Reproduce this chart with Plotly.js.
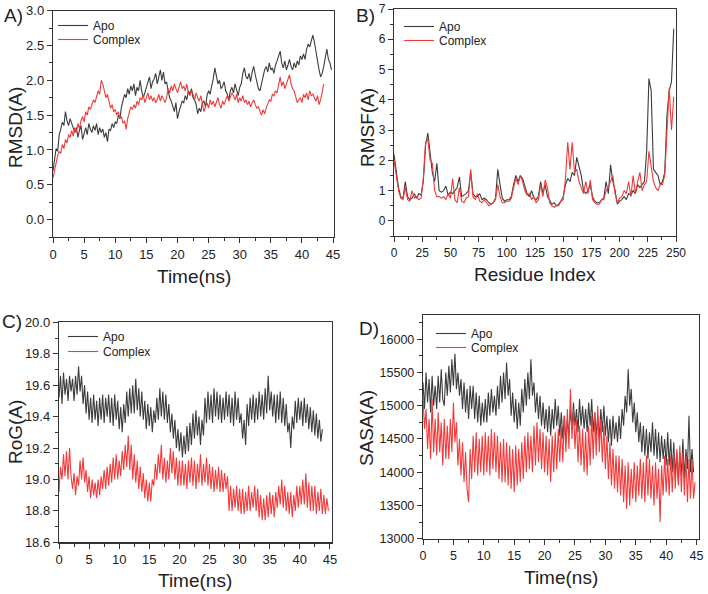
<!DOCTYPE html>
<html>
<head>
<meta charset="utf-8">
<script src="https://cdn.plot.ly/plotly-3.0.1.min.js"></script>
<style>html,body{margin:0;padding:0;background:#fff;}#chart{width:708px;height:594px;}</style>
</head>
<body>
<div id="chart"></div>
<script>
// ---------- DATA ----------
const seriesNames = ["Apo", "Complex"];
const timeStep = 0.25;   // ns between frames for panels A, C, D
const residueStep = 2;   // residues between points for panel B

// A) RMSD (Å)
const rmsdApo = [0.70,0.90,1.02,0.98,1.22,1.30,1.40,1.35,1.55,
1.42,1.35,1.45,1.38,1.30,1.25,1.32,1.18,
1.28,1.35,1.15,1.25,1.32,1.22,1.38,1.30,
1.25,1.35,1.28,1.38,1.22,1.32,1.25,1.30,
1.18,1.25,1.12,1.30,1.28,1.38,1.32,1.40,
1.38,1.50,1.45,1.62,1.70,1.80,1.75,1.88,
1.80,1.92,1.85,1.95,1.78,1.90,1.85,2.00,
1.85,1.75,1.82,1.90,1.95,2.05,1.88,1.98,
2.02,2.10,1.95,2.05,2.15,2.00,2.12,1.95,
1.98,1.85,1.75,1.70,1.62,1.55,1.68,1.45,
1.55,1.62,1.70,1.68,1.78,1.72,1.85,1.80,
1.88,1.75,1.72,1.65,1.52,1.60,1.55,1.68,
1.70,1.62,1.78,1.85,1.80,1.92,2.02,2.18,
2.05,1.95,2.00,1.88,1.92,1.98,1.85,1.80,
1.72,1.85,1.90,1.82,1.95,1.85,1.78,1.90,
1.95,2.10,2.18,2.05,2.02,2.10,1.98,2.12,
2.20,2.08,1.95,1.88,1.85,1.98,2.05,2.15,
2.20,2.12,2.25,2.15,2.18,2.10,2.22,2.28,
2.35,2.42,2.25,2.18,2.28,2.15,2.22,2.30,
2.20,2.15,2.25,2.18,2.28,2.22,2.35,2.30,
2.38,2.30,2.45,2.52,2.48,2.58,2.65,2.55,
2.40,2.30,2.15,2.05,2.10,2.20,2.35,2.45,
2.30,2.25,2.15];
const rmsdComplex = [0.60,0.72,0.85,0.92,0.98,0.95,1.08,1.02,1.15,
1.10,1.22,1.18,1.28,1.20,1.32,1.25,1.38,
1.30,1.42,1.48,1.40,1.55,1.50,1.62,1.58,
1.65,1.72,1.68,1.78,1.85,1.80,2.00,1.95,
1.82,1.75,1.80,1.68,1.60,1.65,1.55,1.58,
1.50,1.55,1.45,1.48,1.38,1.42,1.30,1.45,
1.55,1.62,1.58,1.65,1.60,1.70,1.65,1.75,
1.72,1.80,1.68,1.75,1.82,1.72,1.78,1.70,
1.75,1.68,1.72,1.80,1.70,1.78,1.72,1.68,
1.75,1.88,1.82,1.92,1.85,1.95,1.88,1.82,
1.90,1.98,1.88,1.92,1.85,1.95,1.82,1.78,
1.85,1.80,1.72,1.82,1.75,1.70,1.78,1.65,
1.55,1.62,1.68,1.60,1.72,1.65,1.70,1.62,
1.68,1.75,1.65,1.60,1.70,1.65,1.72,1.78,
1.70,1.75,1.82,1.78,1.72,1.80,1.68,1.75,
1.70,1.78,1.68,1.72,1.65,1.70,1.62,1.68,
1.72,1.65,1.60,1.62,1.55,1.50,1.58,1.52,
1.60,1.68,1.72,1.70,1.80,1.78,1.85,1.82,
1.95,2.05,1.92,1.98,1.88,1.95,2.02,2.08,
1.95,1.88,1.85,1.78,1.68,1.72,1.75,1.68,
1.80,1.75,1.82,1.72,1.85,1.78,1.80,1.75,
1.70,1.78,1.65,1.72,1.82,1.95];

// B) RMSF (Å) per residue (every 2nd residue from 0)
const rmsfApo = [2.2,1.7,1.1,0.8,0.75,1.3,0.8,0.7,0.75,0.9,0.75,0.9,0.85,1.3,2.5,2.9,2.3,1.6,1.3,1.9,
1.0,0.95,1.0,1.15,0.85,0.95,0.9,1.0,1.1,1.45,0.8,0.85,0.9,1.0,1.6,0.9,0.8,0.8,0.9,0.7,
0.75,0.7,0.6,0.55,0.6,0.75,1.7,1.2,0.75,0.65,0.7,0.7,0.8,1.2,1.5,1.3,1.5,1.4,1.1,0.9,
0.8,1.0,0.75,0.7,0.8,1.3,0.9,1.2,0.8,0.65,0.55,0.6,0.5,0.55,0.65,0.8,1.2,1.4,1.3,1.6,
1.5,2.1,1.8,1.5,1.0,0.9,1.0,1.2,0.8,0.65,0.6,0.6,0.7,0.75,1.3,0.9,1.85,1.3,1.0,0.55,
0.65,0.7,0.8,0.7,0.9,0.85,1.0,0.9,1.2,1.1,1.2,1.3,2.3,4.7,4.3,1.7,1.6,1.5,1.2,1.3,
1.6,3.5,4.3,4.6,6.35];
const rmsfComplex = [2.0,1.5,1.0,0.75,0.7,1.1,0.7,0.65,1.0,0.75,0.8,0.7,0.75,1.4,2.6,2.7,2.0,1.9,1.0,0.8,
0.8,0.75,0.8,0.7,0.9,0.75,1.4,0.7,0.6,1.1,0.65,0.6,0.75,0.8,1.7,0.8,0.7,0.9,0.65,0.6,
0.7,0.6,0.5,0.55,0.6,0.7,1.2,0.8,0.6,0.6,0.65,0.65,0.75,1.1,1.4,1.2,1.5,1.3,1.0,0.85,
0.9,0.7,0.8,0.6,0.7,1.2,0.8,1.35,1.1,0.6,0.5,0.45,0.5,0.5,0.65,0.7,1.4,2.6,1.7,2.6,
1.6,1.7,1.3,1.1,0.9,1.3,0.9,1.35,0.7,0.6,0.55,0.55,0.7,0.7,1.0,1.1,1.3,1.5,0.9,0.6,
0.75,0.8,1.0,0.9,1.3,0.8,1.5,0.9,1.3,1.6,1.0,1.2,1.3,2.3,1.8,1.3,1.1,1.0,1.2,1.2,
1.5,3.0,4.4,3.0,4.1];

// C) Radius of gyration (Å)
const rogApo = [19.52,19.66,19.48,19.68,19.54,19.64,19.50,19.66,19.56,
19.64,19.50,19.66,19.54,19.72,19.56,19.66,19.48,
19.60,19.42,19.56,19.38,19.52,19.36,19.54,19.38,
19.50,19.34,19.52,19.38,19.54,19.36,19.52,19.40,
19.54,19.36,19.52,19.34,19.54,19.38,19.50,19.32,
19.46,19.30,19.48,19.36,19.56,19.40,19.58,19.42,
19.60,19.42,19.64,19.44,19.58,19.40,19.56,19.38,
19.50,19.32,19.48,19.34,19.46,19.30,19.44,19.36,
19.52,19.38,19.58,19.40,19.56,19.38,19.54,19.36,
19.48,19.30,19.42,19.26,19.38,19.20,19.32,19.18,
19.30,19.14,19.28,19.16,19.34,19.18,19.36,19.22,
19.42,19.26,19.44,19.28,19.40,19.22,19.38,19.28,
19.52,19.36,19.56,19.38,19.54,19.36,19.58,19.40,
19.56,19.38,19.54,19.36,19.52,19.38,19.56,19.40,
19.54,19.36,19.52,19.34,19.56,19.38,19.52,19.36,
19.42,19.26,19.38,19.22,19.48,19.34,19.52,19.38,
19.54,19.36,19.52,19.38,19.56,19.40,19.54,19.38,
19.58,19.42,19.66,19.44,19.56,19.40,19.54,19.36,
19.54,19.38,19.56,19.36,19.52,19.34,19.48,19.30,
19.36,19.20,19.40,19.32,19.50,19.36,19.52,19.38,
19.50,19.34,19.52,19.36,19.48,19.32,19.46,19.30,
19.44,19.28,19.42,19.26,19.38,19.24,19.32];
const rogComplex = [18.92,19.08,19.00,19.16,19.02,19.18,19.00,19.20,19.02,
18.94,19.04,18.90,19.02,18.96,19.12,19.00,19.14,
18.98,19.06,18.92,19.02,18.88,19.00,18.90,18.98,
18.88,19.00,18.90,19.02,18.94,19.06,18.94,19.08,
18.96,19.10,18.98,19.14,19.00,19.16,19.00,19.12,
19.02,19.18,19.06,19.22,19.08,19.28,19.06,19.22,
19.00,19.16,18.98,19.12,18.94,19.08,18.92,19.04,
18.88,19.00,18.86,18.98,18.86,19.00,18.96,19.10,
19.00,19.16,19.04,19.22,19.00,19.14,18.98,19.12,
19.00,19.20,19.04,19.18,19.00,19.14,18.96,19.12,
18.96,19.12,18.96,19.10,18.94,19.12,18.98,19.14,
18.96,19.12,18.94,19.10,18.98,19.16,18.96,19.10,
18.98,19.14,18.96,19.10,18.94,19.08,18.92,19.06,
18.94,19.08,18.92,19.06,18.92,19.04,18.94,19.02,
18.80,18.96,18.80,18.94,18.82,18.96,18.80,18.94,
18.78,18.94,18.78,18.92,18.80,18.96,18.80,18.92,
18.82,18.96,18.80,18.94,18.76,18.90,18.74,18.88,
18.74,18.90,18.76,18.92,18.78,18.90,18.76,18.92,
18.82,18.96,18.84,19.00,18.82,18.96,18.80,18.92,
18.78,18.92,18.76,18.90,18.80,18.96,18.82,18.96,
18.84,19.00,18.84,19.04,18.82,18.98,18.80,18.96,
18.80,18.96,18.78,18.92,18.80,18.94,18.78,18.90,
18.78,18.88,18.80];

// D) SASA (Å²)
const sasaApo = [15350,14950,15500,15050,15400,14900,15450,15000,15300,
14950,15450,15050,15550,15100,15000,15500,15150,
15600,15200,15700,15300,15780,15250,15500,15150,
15400,14950,15350,14900,15250,14800,15300,14950,
15300,14800,15200,14750,15150,14700,15050,14750,
15100,14750,15200,14850,15250,14900,15150,14850,
15300,14950,15450,15050,15500,15100,15650,15150,
15400,14850,15200,14750,15100,14650,15050,14700,
15250,14900,15400,15000,15500,15100,15700,15150,
15350,14900,15200,14800,15150,14700,15050,14650,
14950,14600,15000,14550,14950,14650,15100,14700,
15000,14550,14900,14500,14850,14450,14800,14550,
14950,14650,15050,14700,14950,14600,15100,14700,
15000,14650,14950,14600,15050,14700,15100,14600,
14900,14550,14850,14500,14950,14600,15000,14550,
14850,14450,14800,14400,14850,14500,14750,14450,
14850,14500,14950,14700,15150,14900,15550,15000,
15250,14750,15050,14600,14900,14450,14750,14300,
14700,14250,14650,14200,14600,14300,14750,14250,
14650,14200,14600,14150,14550,14200,14500,14100,
14600,14100,14500,14000,14450,13950,14300,13850,
14300,13950,14500,13900,14350,14050,14850,14000,
14350,14000];
const sasaComplex = [15150,14650,14950,14350,14800,14200,15100,14300,14800,
14250,14900,14300,14750,14100,14800,14200,14700,
14200,14800,14300,15050,14450,14750,14100,14500,
13950,14450,13850,14300,13750,13550,14350,13900,
14550,14000,14600,13950,14500,14000,14550,13950,
14600,14000,14550,13950,14650,14050,14600,14000,
14550,13900,14450,13850,14500,13850,14450,13800,
14400,13750,14350,13700,14400,13800,14350,13850,
14450,13900,14550,14000,14600,14050,14550,14000,
14700,14100,14750,14150,14650,14050,14600,14000,
14550,13950,14500,13850,14550,14000,14600,14050,
14650,14150,14700,14150,14850,14300,14950,14350,
15250,14500,14950,14350,14800,14150,14700,14100,
14650,14000,14600,13950,14700,14100,14850,14200,
14900,14250,15000,14300,14800,14150,14700,14050,
14550,13900,14450,13800,14350,13750,14250,13700,
14250,13650,14200,13550,14100,13450,14150,13500,
14050,13600,14150,13550,14100,13650,14200,13600,
14150,13550,14250,13650,14200,13600,14100,13500,
14150,13600,14050,13250,14100,13650,14250,13700,
14200,13650,14250,13700,14300,13750,14350,13800,
14400,13700,14300,13650,14250,13550,14200,13600,
14200,13600,13850];

// ---------- BUILD ----------
const W = 708, H = 594;
const px = x => x / W;
const py = y => 1 - y / H;
const tAxis = arr => arr.map((_, i) => i * timeStep);
const rAxis = arr => arr.map((_, i) => i * residueStep);

const cApo = '#3c3c3c', cCx = '#f23a3a';
const FONT = 'Liberation Sans, Arial, sans-serif';

function mk(x, y, name, color, xa, ya, leg) {
  return {x: x, y: y, name: name, type: 'scatter', mode: 'lines',
    line: {color: color, width: 1.1}, xaxis: xa, yaxis: ya, legend: leg, hoverinfo: 'skip'};
}

const data = [
  mk(tAxis(rmsdApo), rmsdApo, seriesNames[0], cApo, 'x', 'y', 'legend'),
  mk(tAxis(rmsdComplex), rmsdComplex, seriesNames[1], cCx, 'x', 'y', 'legend2'),
  mk(rAxis(rmsfApo), rmsfApo, seriesNames[0], cApo, 'x2', 'y2', 'legend3'),
  mk(rAxis(rmsfComplex), rmsfComplex, seriesNames[1], cCx, 'x2', 'y2', 'legend4'),
  mk(tAxis(rogApo), rogApo, seriesNames[0], cApo, 'x3', 'y3', 'legend5'),
  mk(tAxis(rogComplex), rogComplex, seriesNames[1], cCx, 'x3', 'y3', 'legend6'),
  mk(tAxis(sasaApo), sasaApo, seriesNames[0], cApo, 'x4', 'y4', 'legend7'),
  mk(tAxis(sasaComplex), sasaComplex, seriesNames[1], cCx, 'x4', 'y4', 'legend8')
];

function ax(domain, range, dtick, minorDtick, anchor, fsize, fmt) {
  const a = {domain: domain, range: range, anchor: anchor, dtick: dtick, tick0: 0,
    showline: true, mirror: true, linecolor: '#333', linewidth: 1.2,
    ticks: 'outside', ticklen: 5, tickwidth: 1, tickcolor: '#333',
    showgrid: false, zeroline: false, fixedrange: true,
    tickfont: {family: FONT, size: fsize, color: '#222'},
    minor: {ticks: 'outside', ticklen: 3, tickwidth: 1, tickcolor: '#333', dtick: minorDtick, tick0: 0, showgrid: false}};
  if (fmt) a.tickformat = fmt;
  return a;
}

// one legend per series; y is the pixel row of the legend's top edge
function leg(x, y) {
  return {x: px(x), y: py(y), xanchor: 'left', yanchor: 'top', bgcolor: 'rgba(0,0,0,0)',
    borderwidth: 0, font: {family: FONT, size: 12, color: '#222'}, itemwidth: 30, tracegroupgap: 0};
}

function ann(text, x, y, size, angle) {
  return {text: text, x: px(x), y: py(y), xref: 'paper', yref: 'paper', showarrow: false,
    xanchor: 'center', yanchor: 'middle', textangle: angle || 0,
    font: {family: FONT, size: size, color: '#222'}};
}

const layout = {
  width: W, height: H, margin: {l: 0, r: 0, t: 0, b: 0},
  paper_bgcolor: '#fff', plot_bgcolor: '#fff', showlegend: true,
  font: {family: FONT},
  xaxis: ax([px(53), px(334)], [0, 45.15], 5, 2.5, 'y', 13),
  yaxis: ax([py(237), py(10.7)], [-0.25, 3.0], 0.5, 0.25, 'x', 13, '.1f'),
  xaxis2: ax([px(394), px(676)], [0, 250], 25, 12.5, 'y2', 12),
  yaxis2: ax([py(236), py(9)], [-0.5, 7], 1, 0.5, 'x2', 12),
  xaxis3: ax([px(59), px(331.7)], [0, 45.3], 5, 2.5, 'y3', 13),
  yaxis3: ax([py(542.3), py(322.3)], [18.6, 20.0], 0.2, 0.1, 'x3', 13, '.1f'),
  xaxis4: ax([px(423), px(699)], [0, 45.4], 5, 2.5, 'y4', 12.5),
  yaxis4: ax([py(538.7), py(315)], [13000, 16365], 500, 250, 'x4', 12.5, 'd'),
  legend: leg(53, 11), legend2: leg(53, 25),
  legend3: leg(399, 12), legend4: leg(399, 26),
  legend5: leg(63, 322), legend6: leg(63, 337),
  legend7: leg(431, 319), legend8: leg(431, 333),
  annotations: [
    ann('A)', 13, 16, 19), ann('B)', 366, 16, 19), ann('C)', 12, 321, 19), ann('D)', 369, 328, 19),
    ann('Time(ns)', 193.5, 276, 19), ann('RMSD(A)', 15, 128, 19, -90),
    ann('Residue Index', 535, 274, 19), ann('RMSF(A)', 367, 128, 19, -90),
    ann('Time(ns)', 195, 580, 19), ann('RoG(A)', 15, 432, 19, -90),
    ann('Time(ns)', 561, 577, 19), ann('SASA(A)', 366, 428, 19, -90)
  ]
};

Plotly.newPlot('chart', data, layout, {staticPlot: true, displayModeBar: false});
</script>
</body>
</html>
